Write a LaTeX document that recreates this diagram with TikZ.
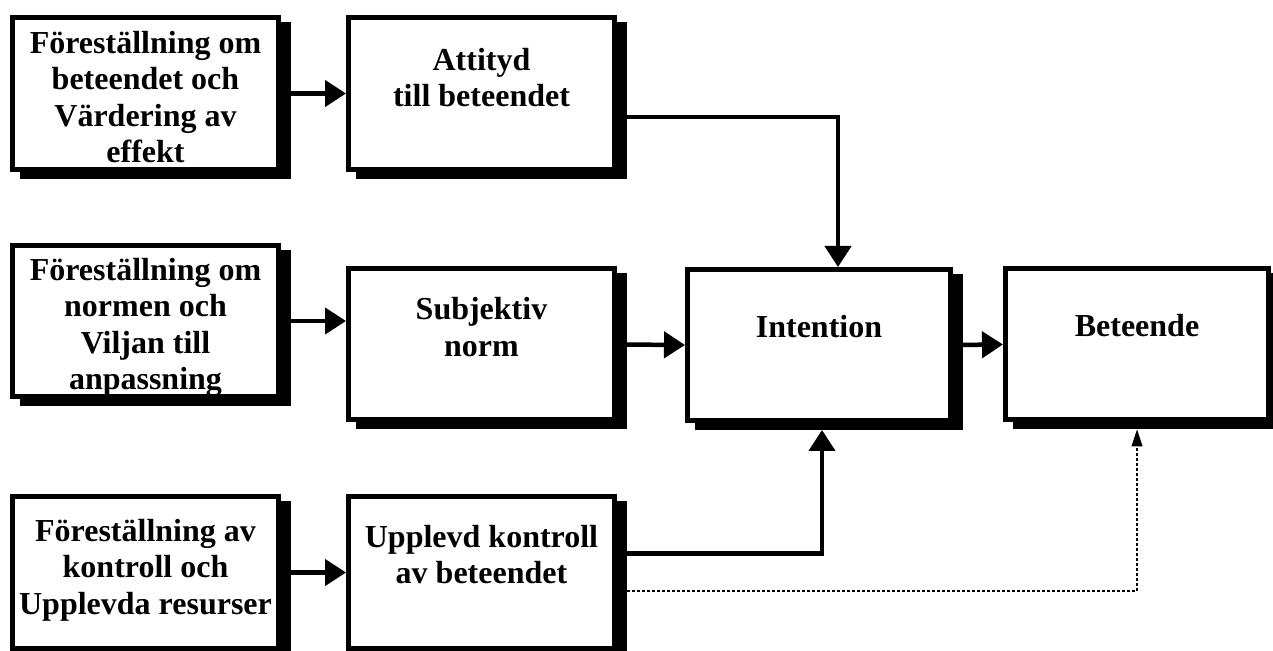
\documentclass[tikz,border=0pt]{standalone}
\usepackage{fontspec}
\newfontfamily\boxfont{Liberation Serif}
\usetikzlibrary{positioning,arrows.meta}
\tikzset{
  box/.style={draw,fill=white,line width=2.5pt,inner sep=0pt,minimum width=133pt,minimum height=76pt,
    preaction={fill=black,draw=black,transform canvas={xshift=4.75pt,yshift=-3.5pt}}},
  txt/.style={font=\boxfont\bfseries\fontsize{16pt}{18.3pt}\selectfont,align=center,inner sep=0pt,outer sep=0pt},
  arr/.style={line width=2.25pt,-{Triangle[length=10.5pt,width=13pt]}},
  thinarr/.style={line width=0.6pt,dash pattern=on 1.5pt off 1pt,-{Triangle[length=8.5pt,width=5.5pt]}}
}
\begin{document}
\begin{tikzpicture}[x=0.5pt,y=-0.5pt]
\useasboundingbox(0,0)rectangle(1273,651);
% boxes
\node[box] (fattityd) at (145.5,93.5){};
\node[box] (attityd) at (481.5,93.5){};
\node[box,minimum height=75.5pt] (fnorm) at (145.5,321){};
\node[box,minimum height=75.5pt] (norm) at (481.5,344.5){};
\node[box,minimum height=75.5pt,minimum width=131.5pt] (intention) at (819,345){};
\node[box,minimum height=75.5pt,minimum width=131.5pt] (beteende) at (1137,344.5){};
\node[box] (fkontroll) at (145.5,572.5){};
\node[box] (kontroll) at (481.5,572.5){};
% texts
\node[txt,below=6.2pt of fattityd.north] (tfattityd){\strut F\"orest\"allning om\\beteendet och\\V\"ardering av\\effekt};
\node[txt,below=14.7pt of attityd.north] (tattityd){\strut Attityd\\till beteendet};
\node[txt,below=5.7pt of fnorm.north] (tfnorm){\strut F\"orest\"allning om\\normen och\\Viljan till\\anpassning};
\node[txt,below=13.7pt of norm.north] (tnorm){\strut Subjektiv\\norm};
\node[txt,below=22.2pt of intention.north] (tintention){\strut Intention};
\node[txt,below=22.2pt of beteende.north] (tbeteende){\strut Beteende};
\node[txt,below=10.7pt of fkontroll.north] (tfkontroll){\strut F\"orest\"allning av\\kontroll och\\Upplevda resurser};
\node[txt,below=13.7pt of kontroll.north] (tkontroll){\strut Upplevd kontroll\\av beteendet};
% arrows
\draw[arr](fattityd.east)--(attityd.west);
\draw[arr](fnorm.east)--(fnorm.east-|norm.west);
\draw[arr](fkontroll.east)--(fkontroll.east-|kontroll.west);
\draw[arr](norm.east)--(intention.west);
\draw[arr](intention.east)--(beteende.west);
\draw[arr]([yshift=-11.75pt]attityd.east)-|([xshift=9.5pt]intention.north);
\draw[arr,shorten >=3.5pt]([yshift=9.5pt]kontroll.east)-|([xshift=1.5pt]intention.south);
\draw[thinarr,shorten >=3.5pt]([yshift=-9.25pt]kontroll.east)-|(beteende.south);
\end{tikzpicture}
\end{document}
